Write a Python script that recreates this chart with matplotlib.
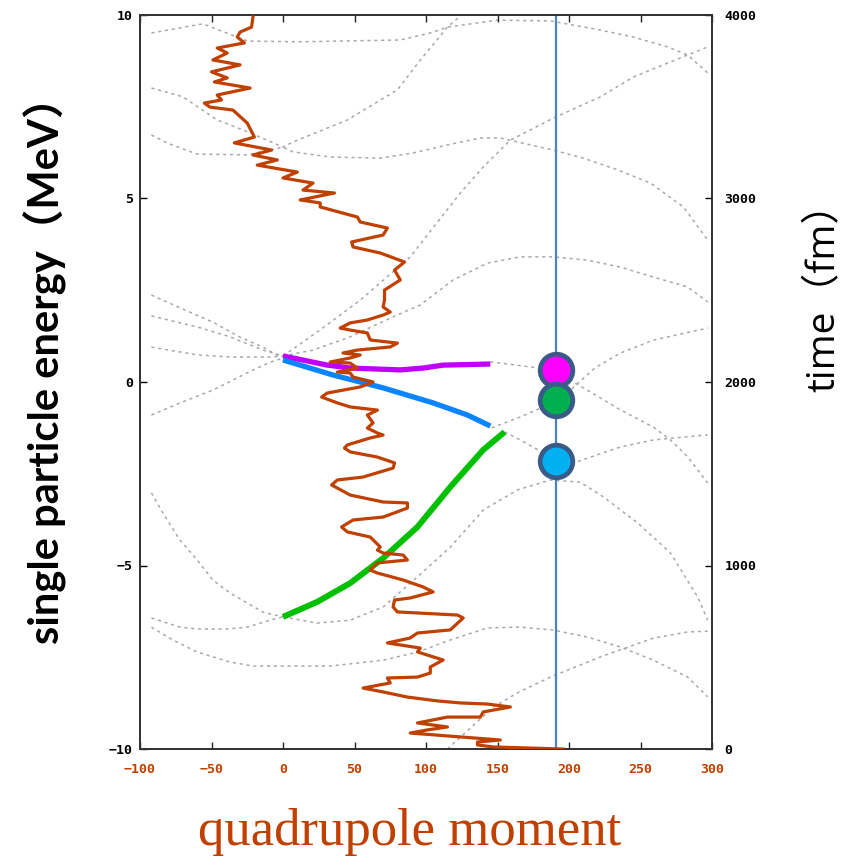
import matplotlib
matplotlib.use("Agg")
import matplotlib.pyplot as plt
import numpy as np

# single-particle levels (quadrupole moment, energy MeV), grey dotted
lvl_top_q = [-92, -56, -25, 12, 82, 103, 115, 150, 187, 222, 245, 269, 283, 297]
lvl_top_e = [9.51, 9.76, 9.29, 9.27, 9.32, 9.51, 9.67, 9.86, 9.84, 9.59, 9.40, 9.13, 8.91, 8.42]
lvl_a1_q = [-92, -70, -46, -23, 0, 7, 45, 80, 96, 115, 125]
lvl_a1_e = [8.01, 7.77, 7.14, 6.79, 6.40, 6.54, 7.14, 7.96, 8.77, 9.67, 10.0]
lvl_a2_q = [-92, -81, -60, -25, 0, 7, 33, 68, 91, 115, 138, 152, 164, 189, 210, 234, 257, 280, 297]
lvl_a2_e = [6.73, 6.51, 6.21, 6.19, 6.40, 6.27, 6.13, 6.10, 6.24, 6.46, 6.65, 6.65, 6.54, 6.32, 6.10,
            5.78, 5.42, 4.77, 3.87]
lvl_r1_q = [0, 26, 54, 89, 124, 140, 159, 189, 222, 245, 269, 297]
lvl_r1_e = [0.71, 1.42, 2.23, 3.41, 5.15, 5.86, 6.59, 7.19, 7.77, 8.31, 8.69, 9.13]
lvl_b_q = [0, 21, 47, 75, 96, 119, 143, 166, 189, 213, 236, 259, 283, 297]
lvl_b_e = [0.71, 0.87, 1.23, 1.74, 2.10, 2.78, 3.24, 3.41, 3.41, 3.32, 3.13, 2.86, 2.59, 2.18]
lvl_l1_q = [-92, -72, -49, -30, -14, -4, 0]
lvl_l1_e = [2.37, 2.02, 1.63, 1.22, 0.95, 0.73, 0.71]
lvl_l2_q = [-92, -60, -37, -14, 0]
lvl_l2_e = [1.80, 1.50, 1.23, 0.87, 0.71]
lvl_l3_q = [-92, -60, -37, -9, 0]
lvl_l3_e = [0.95, 0.74, 0.68, 0.68, 0.71]
lvl_l4_q = [-92, -72, -49, -25, -9, 0]
lvl_l4_e = [-0.90, -0.57, -0.22, 0.25, 0.54, 0.65]
lvl_mag_q = [145, 189, 201, 236, 259, 271, 283, 297]
lvl_mag_e = [0.55, 0.33, 0.05, -0.76, -1.23, -1.58, -2.04, -2.75]
lvl_blu_q = [146, 166, 182, 189, 201, 218, 236, 259, 297]
lvl_blu_e = [-1.25, -0.95, -0.68, -0.49, -0.22, 0.38, 0.79, 1.14, 1.47]
lvl_grn_q = [155, 166, 182, 189, 199, 236, 259, 297]
lvl_grn_e = [-1.36, -1.58, -1.93, -2.15, -2.26, -1.77, -1.58, -1.44]
lvl_n1_q = [0, 24, 47, 70, 94, 117, 140, 164, 187, 208, 224, 248, 271, 290, 297]
lvl_n1_e = [-6.40, -6.57, -6.49, -6.13, -5.31, -4.50, -3.49, -2.94, -2.67, -2.73, -3.13, -3.84,
            -4.66, -5.86, -6.49]
lvl_nl1_q = [-92, -84, -72, -60, -49, -37, -25, -14, 0]
lvl_nl1_e = [-3.02, -3.57, -4.31, -4.85, -5.40, -5.75, -6.02, -6.27, -6.40]
lvl_nl2_q = [-92, -72, -60, -39, -25, -9, 0]
lvl_nl2_e = [-6.43, -6.68, -6.73, -6.73, -6.68, -6.49, -6.40]
lvl_n2_q = [-92, -77, -60, -37, -21, -2, 33, 70, 94, 117, 143, 166, 189, 213, 236, 259, 283, 297]
lvl_n2_e = [-6.68, -7.03, -7.36, -7.63, -7.74, -7.74, -7.74, -7.58, -7.36, -7.03, -6.70, -6.68,
            -6.76, -6.95, -7.22, -7.58, -8.04, -8.58]
lvl_n3_q = [115, 147, 164, 187, 222, 259, 283, 297]
lvl_n3_e = [-10.0, -8.86, -8.47, -8.04, -7.49, -6.98, -6.81, -6.79]

levels = [(lvl_top_q, lvl_top_e), (lvl_a1_q, lvl_a1_e), (lvl_a2_q, lvl_a2_e), (lvl_r1_q, lvl_r1_e),
          (lvl_b_q, lvl_b_e), (lvl_l1_q, lvl_l1_e), (lvl_l2_q, lvl_l2_e), (lvl_l3_q, lvl_l3_e),
          (lvl_l4_q, lvl_l4_e), (lvl_mag_q, lvl_mag_e), (lvl_blu_q, lvl_blu_e), (lvl_grn_q, lvl_grn_e),
          (lvl_n1_q, lvl_n1_e), (lvl_nl1_q, lvl_nl1_e), (lvl_nl2_q, lvl_nl2_e), (lvl_n2_q, lvl_n2_e),
          (lvl_n3_q, lvl_n3_e)]

# occupied orbitals (coloured)
mag_q = [0, 31, 47, 82, 98, 112, 145]
mag_e = [0.71, 0.46, 0.38, 0.33, 0.38, 0.46, 0.49]
blue_q = [0, 35, 70, 105, 129, 145]
blue_e = [0.60, 0.19, -0.16, -0.57, -0.90, -1.20]
green_q = [0, 24, 47, 70, 94, 117, 140, 155]
green_e = [-6.40, -5.99, -5.48, -4.80, -3.95, -2.86, -1.85, -1.36]

# final state
q_final = 191
dot_e = [0.33, -0.49, -2.15]
dot_col = ["#ff00ff", "#00b050", "#00b0f0"]

# time evolution of quadrupole moment (q, time fm)
traj_q = [196, 147, 136, 136, 152, 89, 101, 115, 94, 115, 138, 140, 159, 143, 124, 108, 87, 70, 56,
          75, 73, 94, 103, 103, 112, 94, 96, 73, 89, 94, 117, 126, 122, 94, 80, 77, 78, 89, 105, 98,
          84, 66, 61, 66, 87, 84, 70, 66, 68, 61, 45, 41, 49, 70, 87, 87, 70, 47, 34, 38, 56, 77, 78,
          66, 47, 43, 45, 61, 70, 66, 59, 63, 59, 66, 47, 38, 27, 31, 54, 63, 49, 47, 38, 52, 47, 33,
          47, 54, 42, 52, 75, 80, 61, 59, 47, 40, 47, 59, 70, 75, 70, 71, 71, 82, 78, 85, 68, 49, 48,
          70, 73, 54, 52, 26, 26, 12, 36, 14, 21, 0, 10, -18, -4, -21, -8, -34, -20, -25, -35, -51,
          -55, -43, -46, -23, -48, -39, -50, -30, -49, -39, -46, -27, -32, -30, -22, -21]
traj_t = [0, 11, 22, 38, 49, 87, 104, 120, 142, 174, 174, 202, 229, 245, 251, 262, 283, 311, 332,
          360, 387, 392, 414, 447, 485, 529, 550, 578, 605, 632, 649, 714, 730, 741, 747, 774, 812,
          823, 856, 883, 921, 959, 975, 1014, 1030, 1057, 1068, 1084, 1101, 1155, 1183, 1210, 1248,
          1264, 1313, 1341, 1346, 1384, 1439, 1466, 1482, 1531, 1559, 1591, 1619, 1640, 1657, 1695,
          1711, 1722, 1749, 1777, 1820, 1847, 1864, 1886, 1918, 1940, 1973, 2000, 2027, 2049, 2054,
          2076, 2103, 2109, 2131, 2147, 2158, 2174, 2191, 2212, 2229, 2267, 2283, 2294, 2322, 2338,
          2365, 2381, 2409, 2447, 2501, 2556, 2610, 2654, 2703, 2736, 2763, 2801, 2839, 2872, 2899,
          2954, 2976, 2992, 3030, 3046, 3084, 3112, 3144, 3182, 3210, 3237, 3264, 3303, 3335, 3411,
          3482, 3498, 3520, 3537, 3564, 3602, 3635, 3657, 3690, 3728, 3755, 3793, 3820, 3848, 3880,
          3907, 3934, 3989]

orange = "#c04000"
tickfont = {"family": "DejaVu Sans Mono", "weight": "bold", "size": 9.5}

fig = plt.figure(figsize=(8.46, 8.60), dpi=100)
ax = fig.add_axes([140 / 846, 1 - 749 / 860, 572 / 846, 734 / 860])

for q, e in levels:
    ax.plot(q, e, color="#a8a8a8", lw=1.1, ls=(0, (2, 2.5)), zorder=1)

ax.plot(mag_q, mag_e, color="#c000ff", lw=3.8, solid_capstyle="butt", zorder=3)
ax.plot(blue_q, blue_e, color="#0a84ff", lw=3.8, solid_capstyle="butt", zorder=3)
ax.plot(green_q, green_e, color="#00c000", lw=4.3, solid_capstyle="butt", zorder=3)

ax.axvline(q_final, color="#4f81bd", lw=1.6, zorder=2)
for e, c in zip(dot_e, dot_col):
    ax.plot(q_final, e, "o", ms=23.5, mfc=c, mec="#3a5a88", mew=3.4, zorder=5)

ax.set_xlim(-100, 300)
ax.set_ylim(-10, 10)
ax.set_xticks(np.arange(-100, 301, 50))
ax.set_yticks([-10, -5, 0, 5, 10])
ax.tick_params(axis="both", direction="in", length=5, width=1, top=True)
ax.tick_params(axis="x", pad=10, colors="#222222", labelcolor=orange)
ax.tick_params(axis="y", pad=5)
for lab in ax.get_xticklabels() + ax.get_yticklabels():
    lab.set_fontproperties(tickfont)

ax2 = ax.twinx()
ax2.plot(traj_q, traj_t, color=orange, lw=2.3, zorder=4)
ax2.set_ylim(0, 4000)
ax2.set_yticks([0, 1000, 2000, 3000, 4000])
ax2.tick_params(axis="y", direction="in", length=5, width=1, pad=9)
for lab in ax2.get_yticklabels():
    lab.set_fontproperties(tickfont)

for a in (ax, ax2):
    for s in a.spines.values():
        s.set_linewidth(1.3)
        s.set_color("#333333")

fig.text(45 / 846, 1 - 360 / 860, "single particle energy（MeV）", rotation=90,
         ha="center", va="center", fontsize=30, fontweight="bold",
         family=["Lato", "Noto Sans CJK JP"])
fig.text(825 / 846, 1 - 288 / 860, "time（fm）", rotation=90, ha="center", va="center",
         fontsize=28, family=["Open Sans", "Noto Sans CJK JP"])
fig.text(410 / 846, 1 - 832 / 860, "quadrupole moment", ha="center", va="center",
         fontsize=38, color=orange, family="Liberation Serif")

fig.savefig("out.png", dpi=100)
